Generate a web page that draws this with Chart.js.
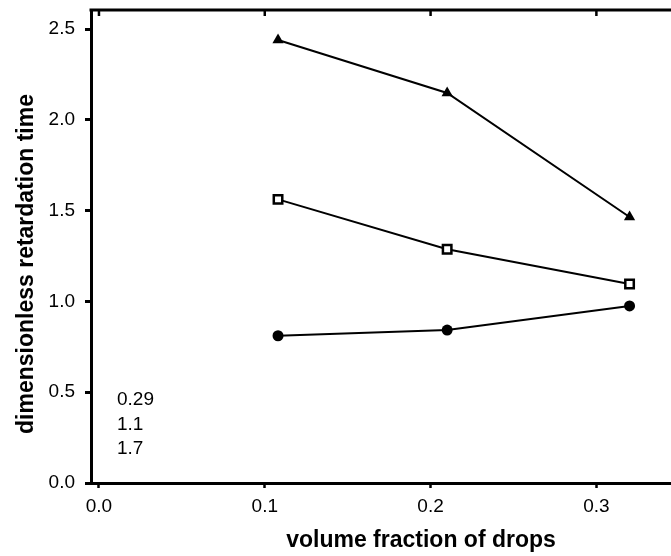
<!DOCTYPE html>
<html>
<head>
<meta charset="utf-8">
<script src="https://cdn.jsdelivr.net/npm/chart.js@4.4.1/dist/chart.umd.min.js"></script>
<style>
    html, body { margin: 0; padding: 0; background: #fff; overflow: hidden; }
    #wrap { width: 671px; height: 556px; position: relative; }
</style>
</head>
<body>
<div id="wrap"><canvas id="chart"></canvas></div>
<script>
// volume fraction of drops (x) and the three series
const xValues = [0.108, 0.21, 0.32];
const circleSeries = [0.811, 0.842, 0.975];
const squareSeries = [1.562, 1.287, 1.096];
const triangleSeries = [2.44, 2.148, 1.465];

const xTicks = [0.0, 0.1, 0.2, 0.3];
const yTicks = [0.0, 0.5, 1.0, 1.5, 2.0, 2.5];
const noteLabels = ["0.29", "1.1", "1.7"];

const xTitle = "volume fraction of drops";
const yTitle = "dimensionless retardation time";

const FONT = "'Liberation Sans', Arial, sans-serif";

const toPoints = ys => ys.map((y, i) => ({ x: xValues[i], y: y }));

// top frame line with inward ticks, axis titles, and the little text block
const extras = {
    id: "extras",
    afterDraw(chart) {
        const ctx = chart.ctx;
        const area = chart.chartArea;
        const xs = chart.scales.x;

        ctx.save();
        ctx.strokeStyle = "#000";
        ctx.lineWidth = 3;
        ctx.beginPath();
        ctx.moveTo(area.left - 1.5, area.top);
        ctx.lineTo(area.right, area.top);
        ctx.stroke();

        ctx.lineWidth = 2.5;
        xTicks.forEach(v => {
            const px = xs.getPixelForValue(v);
            ctx.beginPath();
            ctx.moveTo(px, area.top);
            ctx.lineTo(px, area.top + 6);
            ctx.stroke();
        });

        ctx.fillStyle = "#000";
        ctx.font = "bold 23px " + FONT;
        ctx.textAlign = "center";
        ctx.textBaseline = "alphabetic";
        ctx.fillText(xTitle, 421, 547);

        ctx.save();
        ctx.translate(33, 264);
        ctx.rotate(-Math.PI / 2);
        ctx.fillText(yTitle, 0, 0);
        ctx.restore();

        ctx.font = "19px " + FONT;
        ctx.textAlign = "left";
        noteLabels.forEach((t, i) => {
            ctx.fillText(t, area.left + 26, area.bottom - 78 + i * 24.5);
        });
        ctx.restore();
    }
};

new Chart(document.getElementById("chart"), {
    type: "line",
    data: {
        datasets: [
            {
                data: toPoints(circleSeries),
                borderColor: "#000",
                borderWidth: 2,
                pointStyle: "circle",
                pointRadius: 5.5,
                pointBackgroundColor: "#000",
                pointBorderWidth: 0
            },
            {
                data: toPoints(squareSeries),
                borderColor: "#000",
                borderWidth: 2,
                pointStyle: "rect",
                pointRadius: 6,
                pointBackgroundColor: "#fff",
                pointBorderColor: "#000",
                pointBorderWidth: 2.5
            },
            {
                data: toPoints(triangleSeries),
                borderColor: "#000",
                borderWidth: 2,
                pointStyle: "triangle",
                pointRadius: 6.5,
                pointBackgroundColor: "#000",
                pointBorderWidth: 0
            }
        ]
    },
    options: {
        responsive: true,
        maintainAspectRatio: false,
        animation: false,
        layout: { autoPadding: false, padding: { top: 10, right: 0, left: 0, bottom: 0 } },
        plugins: {
            legend: { display: false },
            tooltip: { enabled: false }
        },
        elements: { line: { tension: 0 } },
        scales: {
            x: {
                type: "linear",
                min: -0.0048,
                max: 0.345,
                afterBuildTicks: s => { s.ticks = xTicks.map(v => ({ value: v })); },
                afterFit: s => { s.height = 73; s.paddingLeft = 0; s.paddingRight = 0; },
                ticks: {
                    color: "#000",
                    font: { family: FONT, size: 19 },
                    padding: 7,
                    maxRotation: 0,
                    callback: v => v.toFixed(1)
                },
                grid: {
                    drawOnChartArea: false,
                    tickLength: 5,
                    tickWidth: 2.5,
                    tickColor: "#000"
                },
                border: { color: "#000", width: 3 }
            },
            y: {
                min: 0,
                max: 2.605,
                afterBuildTicks: s => { s.ticks = yTicks.map(v => ({ value: v })); },
                afterFit: s => { s.width = 91; s.paddingTop = 0; s.paddingBottom = 0; },
                ticks: {
                    color: "#000",
                    font: { family: FONT, size: 19 },
                    padding: 10,
                    callback: v => v.toFixed(1)
                },
                grid: {
                    drawOnChartArea: false,
                    tickLength: 6,
                    tickWidth: 3,
                    tickColor: "#000"
                },
                border: { color: "#000", width: 3 }
            }
        }
    },
    plugins: [extras]
});
</script>
</body>
</html>
